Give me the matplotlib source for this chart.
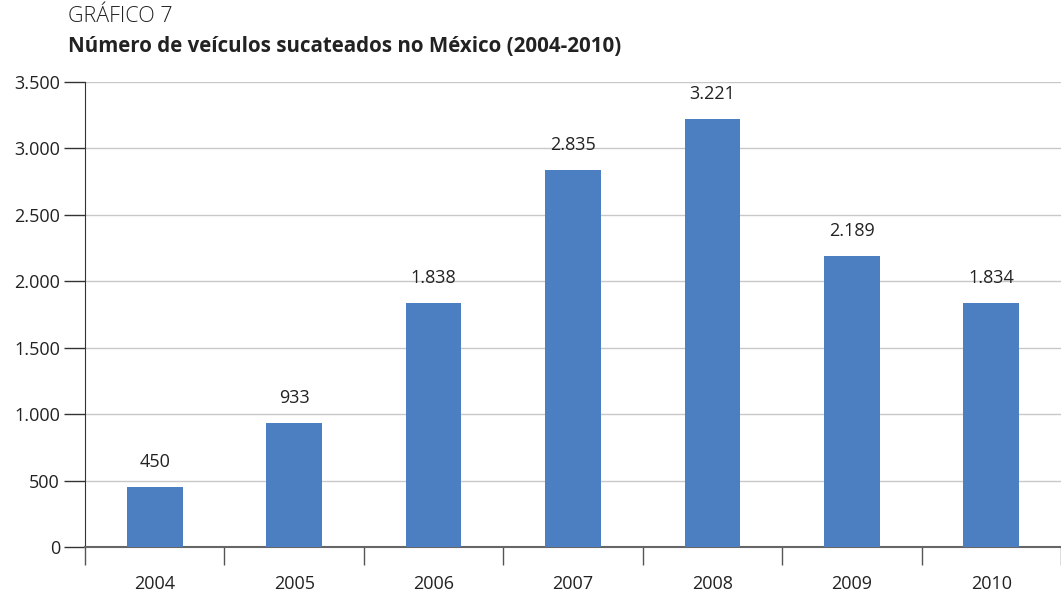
import numpy as np
import matplotlib.pyplot as plt
from matplotlib.ticker import FuncFormatter, FixedLocator

anos = ['2004', '2005', '2006', '2007', '2008', '2009', '2010']
veiculos = [450, 933, 1838, 2835, 3221, 2189, 1834]
y_ticks = [0, 500, 1000, 1500, 2000, 2500, 3000, 3500]

plt.rcParams['font.family'] = ['Open Sans', 'DejaVu Sans']


def milhar(v):
    # separador de milhar com ponto
    return f'{int(v):,}'.replace(',', '.')


fig = plt.figure(figsize=(10.61, 5.92), dpi=100)
ax = fig.add_axes([85 / 1061, 1 - 547 / 592, 1 - 85 / 1061, (547 - 82) / 592])

x = np.arange(len(anos))
ax.bar(x, veiculos, width=0.4, color='#4b7fc1', zorder=3)

for xi, v in zip(x, veiculos):
    ax.text(xi, v + 120, milhar(v), ha='center', va='bottom', fontsize=13, color='#222222')

ax.set_xlim(-0.5, len(anos) - 0.5)
ax.set_ylim(0, 3500)
ax.set_yticks(y_ticks)
ax.yaxis.set_major_formatter(FuncFormatter(lambda v, p: milhar(v)))
ax.grid(axis='y', color='#c8c8c8', linewidth=1, zorder=0)

ax.set_xticks(x)
ax.set_xticklabels(anos)
ax.xaxis.set_minor_locator(FixedLocator(np.arange(-0.5, len(anos), 1.0)))
ax.tick_params(axis='x', which='major', length=0, pad=20, labelsize=13, colors='#222222')
ax.tick_params(axis='x', which='minor', length=13, width=1, color='#555555')
ax.tick_params(axis='y', length=15, width=1, color='#333333', labelsize=13, labelcolor='#222222', pad=3)

for s in ['top', 'right']:
    ax.spines[s].set_visible(False)
ax.spines['left'].set_color('#333333')
ax.spines['bottom'].set_color('#666666')
ax.spines['bottom'].set_linewidth(1.5)

fig.text(68 / 1061, 1 - 17 / 592, 'GRÁFICO 7', fontsize=15.5, fontweight='light',
         color='#222222', va='center', ha='left')
fig.text(68 / 1061, 1 - 46 / 592, 'Número de veículos sucateados no México (2004-2010)',
         fontsize=14.8, fontweight='bold', color='#222222', va='center', ha='left')

fig.savefig('out.png', dpi=100)
